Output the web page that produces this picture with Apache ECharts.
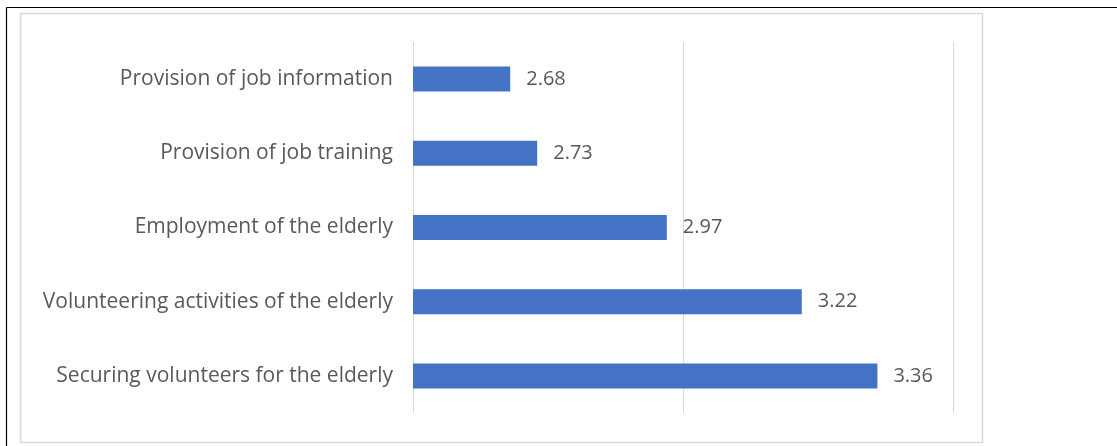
<!DOCTYPE html>
<html>
<head>
<meta charset="utf-8">
<script src="https://cdn.jsdelivr.net/npm/echarts@6/dist/echarts.min.js"></script>
<style>
  html, body { margin: 0; padding: 0; background: #ffffff; }
  #chart { width: 1117px; height: 446px; }
</style>
</head>
<body>
<div id="chart"></div>
<script>
// Mean scores per support item (bottom-to-top order on the category axis)
const categories = [
  'Securing volunteers for the elderly',
  'Volunteering activities of the elderly',
  'Employment of the elderly',
  'Provision of job training',
  'Provision of job information'
];
const scores = [3.36, 3.22, 2.97, 2.73, 2.68];

const axisMin = 2.5;
const axisMax = 3.5;
const axisStep = 0.5;

const textColor = '#595959';
const fontFamily = '"Open Sans", "Noto Sans", sans-serif';

const chart = echarts.init(document.getElementById('chart'), null, { renderer: 'canvas' });

chart.setOption({
  backgroundColor: '#ffffff',
  animation: false,
  graphic: [
    // outer frame (top and left edges)
    { type: 'line', shape: { x1: 6.5, y1: 7.5, x2: 1117, y2: 7.5 }, style: { stroke: '#000000', lineWidth: 1.2 } },
    { type: 'line', shape: { x1: 6.5, y1: 7.5, x2: 6.5, y2: 446 }, style: { stroke: '#000000', lineWidth: 1.2 } },
    // chart area border
    { type: 'rect', shape: { x: 20.5, y: 13.5, width: 962, height: 429 }, style: { fill: 'none', stroke: '#d9d9d9', lineWidth: 1.5 } }
  ],
  grid: { left: 413, right: 164, top: 42, bottom: 33, containLabel: false },
  xAxis: {
    type: 'value',
    min: axisMin,
    max: axisMax,
    interval: axisStep,
    axisLine: { show: false },
    axisTick: { show: false },
    axisLabel: { show: false },
    splitLine: { show: true, lineStyle: { color: '#d9d9d9', width: 1 } }
  },
  yAxis: {
    type: 'category',
    data: categories,
    axisLine: { show: false },
    axisTick: { show: false },
    axisLabel: { color: textColor, fontSize: 21, fontFamily: fontFamily, margin: 20 }
  },
  series: [{
    type: 'bar',
    data: scores,
    barWidth: 25,
    itemStyle: { color: '#4472c4' },
    label: {
      show: true,
      position: 'right',
      distance: 16,
      color: textColor,
      fontSize: 20,
      fontFamily: fontFamily,
      formatter: p => p.value.toFixed(2)
    }
  }]
});
</script>
</body>
</html>
